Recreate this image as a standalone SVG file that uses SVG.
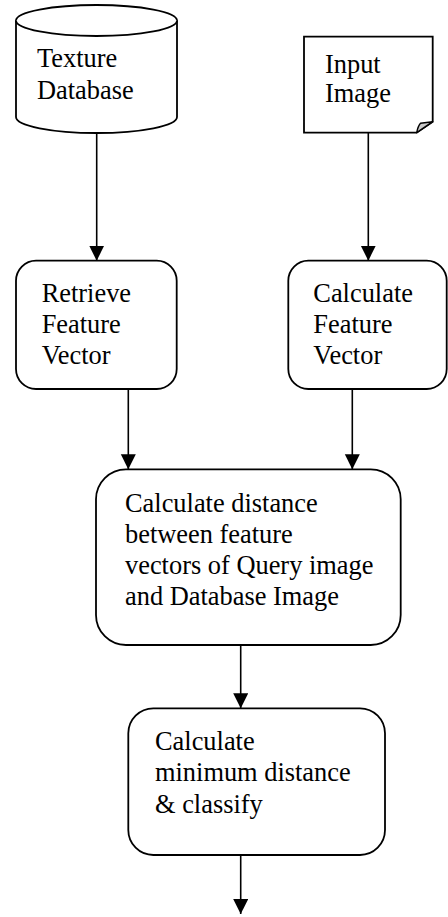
<svg xmlns="http://www.w3.org/2000/svg" width="448" height="917" viewBox="0 0 448 917">
  <style>
    .shape { fill: #ffffff; stroke: #000000; stroke-width: 1.8; }
    .edge { fill: none; stroke: #000000; stroke-width: 1.6; marker-end: url(#arrow); }
  </style>
  <defs>
    <marker id="arrow" viewBox="0 0 15 19" refX="15" refY="7.5" markerWidth="15" markerHeight="19" markerUnits="userSpaceOnUse" orient="auto">
      <path d="M0,0 L19,7.5 L0,15 Z" fill="#000000" transform="scale(0.79,1)"/>
    </marker>
  </defs>

  <rect width="448" height="917" fill="#ffffff"/>

  <!-- connectors -->
  <g id="connectors">
    <line class="edge" x1="96.7" y1="133" x2="96.7" y2="260.7"/>
    <line class="edge" x1="368.3" y1="132.7" x2="368.3" y2="260.7"/>
    <line class="edge" x1="128.3" y1="389" x2="128.3" y2="469.3"/>
    <line class="edge" x1="352.3" y1="389" x2="352.3" y2="469.3"/>
    <line class="edge" x1="240.7" y1="645" x2="240.7" y2="708.3"/>
    <line class="edge" x1="240.7" y1="855" x2="240.7" y2="914"/>
  </g>

  <!-- data store: cylinder -->
  <g id="texture-database">
    <path class="shape" d="M16,20.5 L16,117 A80.5,16 0 0 0 177,117 L177,20.5 A80.5,15.5 0 0 0 16,20.5 Z"/>
    <path class="shape" fill="none" d="M16,20.5 A80.5,15.5 0 0 0 177,20.5"/>
    <text x="37" y="67" font-family="'Liberation Serif', serif" font-size="26.4">Texture</text>
    <text x="37" y="99" font-family="'Liberation Serif', serif" font-size="26.4">Database</text>
  </g>

  <!-- document with folded corner -->
  <g id="input-image">
    <path class="shape" d="M304,36.7 L432.7,36.7 L432.7,121.7 L416.7,132.7 L304,132.7 Z"/>
    <path d="M416.7,132.7 Q418,126 420.5,123.3 L432.7,121.7 Z" fill="#c8c8c8" stroke="#000000" stroke-width="1.4" stroke-linejoin="round"/>
    <text x="325" y="72.7" font-family="'Liberation Serif', serif" font-size="26.4">Input</text>
    <text x="325" y="101.7" font-family="'Liberation Serif', serif" font-size="26.4">Image</text>
  </g>

  <g id="retrieve-feature-vector">
    <rect class="shape" x="16" y="260.7" width="160.7" height="128.3" rx="20" ry="20"/>
    <text x="41.7" y="301.7" font-family="'Liberation Serif', serif" font-size="26.4">Retrieve</text>
    <text x="41.7" y="332.7" font-family="'Liberation Serif', serif" font-size="26.4">Feature</text>
    <text x="41.7" y="363.5" font-family="'Liberation Serif', serif" font-size="26.4">Vector</text>
  </g>

  <g id="calculate-feature-vector">
    <rect class="shape" x="288.3" y="260.7" width="158.4" height="128.3" rx="20" ry="20"/>
    <text x="313.3" y="301.7" font-family="'Liberation Serif', serif" font-size="26.4">Calculate</text>
    <text x="313.3" y="332.7" font-family="'Liberation Serif', serif" font-size="26.4">Feature</text>
    <text x="313.3" y="363.5" font-family="'Liberation Serif', serif" font-size="26.4">Vector</text>
  </g>

  <g id="calculate-distance">
    <rect class="shape" x="96" y="469.3" width="304.7" height="175.7" rx="30" ry="30"/>
    <text x="125" y="512.3" font-family="'Liberation Serif', serif" font-size="26.4">Calculate distance</text>
    <text x="125" y="543.3" font-family="'Liberation Serif', serif" font-size="26.4">between feature</text>
    <text x="125" y="574.3" font-family="'Liberation Serif', serif" font-size="26.4">vectors of Query image</text>
    <text x="125" y="605" font-family="'Liberation Serif', serif" font-size="26.4">and Database Image</text>
  </g>

  <g id="minimum-distance">
    <rect class="shape" x="128.3" y="708.3" width="256.7" height="146.7" rx="25" ry="25"/>
    <text x="155" y="750" font-family="'Liberation Serif', serif" font-size="26.4">Calculate</text>
    <text x="155" y="781" font-family="'Liberation Serif', serif" font-size="26.4">minimum distance</text>
    <text x="155" y="812.7" font-family="'Liberation Serif', serif" font-size="26.4">&amp; classify</text>
  </g>
</svg>
